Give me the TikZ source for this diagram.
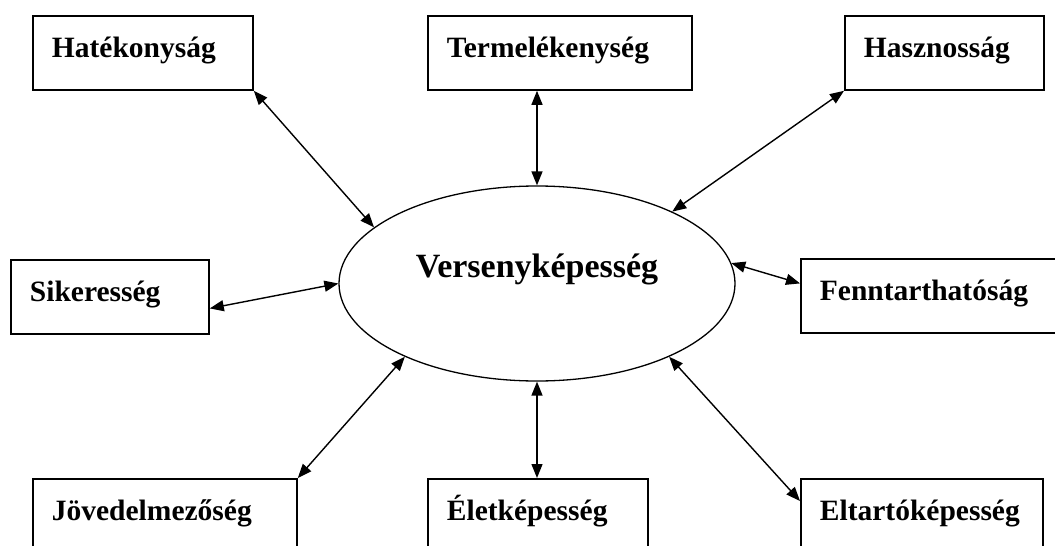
\documentclass[tikz,border=0pt]{standalone}
\usepackage{fontspec}
\setmainfont{Liberation Serif}
\usetikzlibrary{arrows.meta,shapes.geometric}
\begin{document}
\begin{tikzpicture}[x=1pt,y=-1pt,
  box/.style={draw, line width=1.8pt, rectangle, anchor=north west,
    minimum height=74pt, inner xsep=19pt, inner ysep=0pt,
    text height=17pt, text depth=7pt, text width=#1, align=left,
    font=\fontsize{29.5}{34}\selectfont\bfseries},
  link/.style={line width=1.4pt,
    {Triangle[length=14pt,width=11pt]}-{Triangle[length=14pt,width=11pt]}},
  ellstyle/.style={draw, ellipse, line width=1.3pt, minimum width=396pt,
    minimum height=195pt, inner sep=0pt}
]
\useasboundingbox (0,0) rectangle (1055,546);
\fill[white] (0,0) rectangle (1055,546);

\node[box=182pt] (hat) at (32,15) {Hatékonyság};
\node[box=226pt] (ter) at (427,15) {Termelékenység};
\node[box=161pt] (has) at (844,15) {Hasznosság};
\node[box=160pt] (sik) at (10,259) {Sikeresség};
\node[box=232pt] (fen) at (800,258) {Fenntarthatóság};
\node[box=226pt] (jov) at (32,478) {Jövedelmezőség};
\node[box=182pt] (elet) at (427,478) {Életképesség};
\node[box=204pt] (elt) at (800,478) {Eltartóképesség};

\node[ellstyle] (ell) at (537,283.5) {};
\node[anchor=base, inner sep=0pt, font=\fontsize{34}{40}\selectfont\bfseries]
  (vtext) at (537,277) {Versenyképesség};

\draw[link] (hat.south east) -- (ell.161.6);
\draw[link] (ter.south -| ell.north) -- (ell.north);
\draw[link] (has.south west) -- (ell.28.4);
\draw[link] ([yshift=-11.5pt]sik.east) -- (ell.180.7);
\draw[link] (ell.6.7) -- ([yshift=12.5pt]fen.west);
\draw[link] (jov.north east) -- (ell.209.1);
\draw[link] (ell.south) -- (elet.north -| ell.south);
\draw[link] (ell.331.1) -- ([yshift=-23pt]elt.north west);
\end{tikzpicture}
\end{document}
